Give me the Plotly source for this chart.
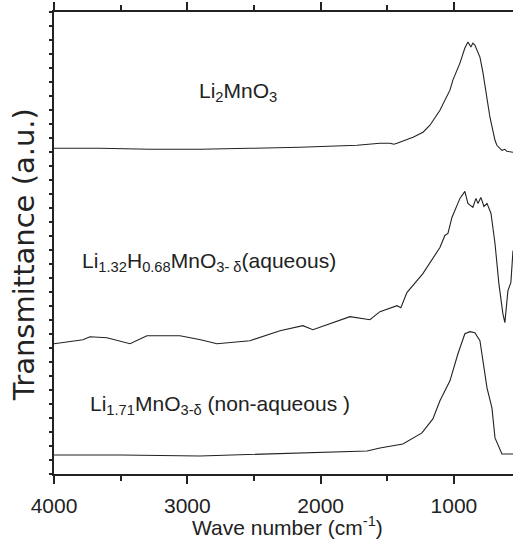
import plotly.graph_objects as go

# Wavenumbers (cm-1) and transmittance (a.u., offset spectra)
wn_top = [4000, 3655, 3280, 2905, 2530, 2155, 1727, 1555, 1480, 1450, 1427, 1307, 1232, 1180,
          1105, 1030, 1008, 955, 918, 895, 873, 858, 843, 805, 783, 752, 730, 692, 678, 640,
          618, 603, 557]
t_top = [325, 325, 324, 324, 325, 326, 328, 330, 330, 329, 330, 336, 341, 348,
         363, 383, 393, 410, 425, 431, 426, 430, 428, 416, 401, 376, 356, 333, 328, 323,
         324, 322, 321]

wn_mid = [4000, 3783, 3730, 3603, 3430, 3303, 3055, 2900, 2778, 2530, 2305, 2133, 2058, 1780,
          1630, 1555, 1427, 1398, 1353, 1233, 1105, 1068, 1045, 1015, 955, 918, 895, 858,
          835, 820, 798, 775, 752, 722, 692, 663, 633, 618, 595, 573, 557]
t_mid = [130, 134, 137, 136, 130, 138, 138, 134, 130, 133, 143, 148, 144, 157,
         154, 162, 168, 166, 181, 200, 226, 238, 240, 256, 275, 282, 270, 266,
         275, 270, 276, 267, 270, 260, 230, 190, 160, 151, 183, 191, 223]

wn_bot = [4000, 3500, 2905, 2155, 1652, 1555, 1383, 1240, 1180, 1158, 1105, 1030, 970, 918,
          880, 843, 805, 752, 715, 692, 640, 602, 557]
t_bot = [19, 19, 18, 21, 23, 26, 30, 41, 51, 55, 73, 93, 120, 140,
         142, 141, 133, 86, 66, 36, 20, 20, 20]

labels = ["Li<sub>2</sub>MnO<sub>3</sub>",
          "Li<sub>1.32</sub>H<sub>0.68</sub>MnO<sub>3- δ</sub>(aqueous)",
          "Li<sub>1.71</sub>MnO<sub>3-δ</sub> (non-aqueous )"]

x_ticks = [4000, 3000, 2000, 1000]
x_minor = [3500, 2500, 1500]

FONT = "Liberation Sans, Arial, sans-serif"
INK = "#222222"
LINE = dict(color=INK, width=1.1)

fig = go.Figure()
for wn, t in [(wn_top, t_top), (wn_mid, t_mid), (wn_bot, t_bot)]:
    fig.add_trace(go.Scatter(x=wn, y=t, mode="lines", line=LINE, showlegend=False,
                             hoverinfo="skip"))

ann_pos = [(0.3115, 0.827), (0.0566, 0.459), (0.074, 0.149)]
for txt, (ax, ay) in zip(labels, ann_pos):
    fig.add_annotation(text=txt, xref="paper", yref="paper", x=ax, y=ay,
                       xanchor="left", yanchor="middle", showarrow=False,
                       font=dict(size=21, color=INK, family=FONT))

# axis titles
fig.add_annotation(text="Wave number (cm<sup>-1</sup>)", xref="paper", yref="paper",
                   x=0.508, y=-0.112, xanchor="center", yanchor="middle", showarrow=False,
                   font=dict(size=21, color=INK, family=FONT))
fig.add_annotation(text="Transmittance (a.u.)", xref="paper", yref="paper",
                   x=-0.065, y=0.474, xanchor="center", yanchor="middle", showarrow=False,
                   textangle=-90,
                   font=dict(size=29, color=INK, family="DejaVu Sans, sans-serif"))

fig.update_layout(
    width=513, height=539,
    margin=dict(l=54, r=0, t=12, b=65, autoexpand=False),
    paper_bgcolor="white", plot_bgcolor="white",
    font=dict(family=FONT, color=INK, size=20),
    xaxis=dict(
        range=[4000, 557], autorange=False, automargin=False,
        tickmode="array", tickvals=x_ticks,
        ticktext=[str(v) for v in x_ticks],
        ticks="outside", ticklen=8, tickwidth=1.5, tickcolor=INK,
        minor=dict(tickvals=x_minor, ticks="outside", ticklen=5,
                   tickwidth=1.5, tickcolor=INK),
        showline=True, linecolor=INK, linewidth=2, mirror="ticks",
        showgrid=False, zeroline=False,
        tickfont=dict(size=21), ticklabelstandoff=4,
    ),
    yaxis=dict(
        range=[0, 461], autorange=False, automargin=False,
        tick0=0, dtick=461 / 33,
        ticks="outside", ticklen=3, tickwidth=1.5, tickcolor=INK,
        showticklabels=False,
        showline=True, linecolor=INK, linewidth=2, mirror=False,
        showgrid=False, zeroline=False,
    ),
)

fig.write_html(
    "out.html",
    config={"displayModeBar": False},
    post_script="document.body.style.margin='0';document.body.style.padding='0';"
                "document.documentElement.style.overflow='hidden';",
)
